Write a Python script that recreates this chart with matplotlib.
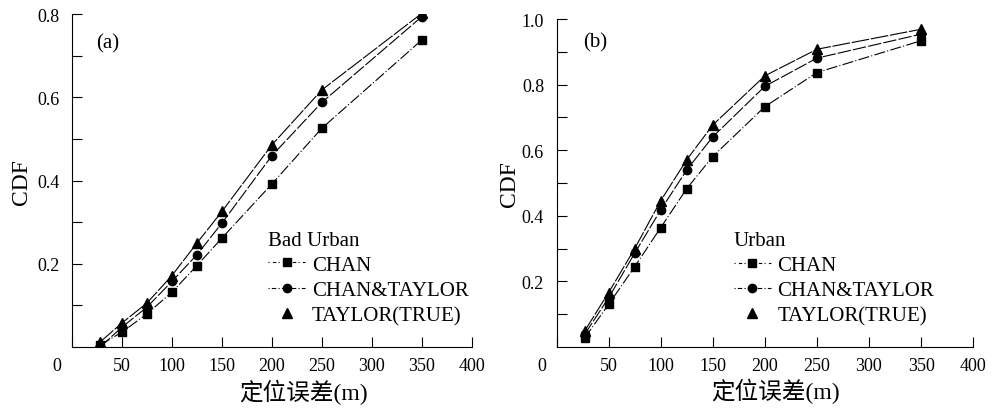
import matplotlib
matplotlib.use("Agg")
import matplotlib.pyplot as plt
from matplotlib.lines import Line2D
from matplotlib.ticker import FixedLocator, FormatStrFormatter
from matplotlib.transforms import ScaledTranslation

plt.rcParams['font.family'] = ['Liberation Serif', 'Noto Sans CJK SC', 'DejaVu Sans']

# ---- data ----
x_err_a = [28, 50, 75, 100, 125, 150, 200, 250, 350]
a_chan = [0.005, 0.036, 0.080, 0.132, 0.196, 0.262, 0.392, 0.526, 0.738]
a_chan_taylor = [0.000, 0.048, 0.096, 0.158, 0.222, 0.298, 0.460, 0.588, 0.794]
a_taylor = [0.012, 0.058, 0.106, 0.172, 0.250, 0.326, 0.486, 0.618, 0.802]

x_err_b = [27, 50, 75, 100, 125, 150, 200, 250, 350]
b_chan = [0.028, 0.130, 0.245, 0.364, 0.483, 0.581, 0.733, 0.837, 0.934]
b_chan_taylor = [0.039, 0.150, 0.286, 0.418, 0.540, 0.641, 0.795, 0.881, 0.954]
b_taylor = [0.049, 0.166, 0.300, 0.446, 0.571, 0.677, 0.827, 0.908, 0.969]

series_names = ['CHAN', 'CHAN&TAYLOR', 'TAYLOR(TRUE)']
legend_titles = ['Bad Urban', 'Urban']
panel_tags = ['(a)', '(b)']
xlabel = '定位误差(m)'
ylabel = 'CDF'
x_ticks = [0, 50, 100, 150, 200, 250, 300, 350, 400]
y_ticks_a = [0.2, 0.4, 0.6, 0.8]
y_ticks_b = [0.2, 0.4, 0.6, 0.8, 1.0]

fig = plt.figure(figsize=(9.92, 4.10), dpi=100)
ax1 = fig.add_axes([0.0726, 0.151, 0.403, 0.812])
ax2 = fig.add_axes([0.561, 0.151, 0.420, 0.800])

styles = [
    dict(marker='s', linestyle=(0, (10, 2, 1, 2)), markersize=6),
    dict(marker='o', linestyle=(0, (12, 2)), markersize=6),
    dict(marker='^', linestyle=(0, (16, 1.5)), markersize=7),
]
legend_ls = [(0, (1, 3, 3, 2)), (0, (1, 2, 4, 2)), 'None']


def draw(ax, xs, ys_list, ylim, yticks, title, tag, leg_anchor, tag_pos, xlab_x, ylab_pad):
    handles = []
    for ys, st, name, lls in zip(ys_list, styles, series_names, legend_ls):
        ax.plot(xs, ys, color='black', linewidth=0.8, **st)
        handles.append(Line2D([], [], color='black', linewidth=0.8, marker=st['marker'],
                              markersize=st['markersize'], linestyle=lls, label=name))
    ax.set_xlim(0, 400)
    ax.set_ylim(*ylim)
    ax.spines['top'].set_visible(False)
    ax.spines['right'].set_visible(False)
    ax.xaxis.set_major_locator(FixedLocator(x_ticks))
    ax.yaxis.set_major_locator(FixedLocator(yticks))
    minors = [round(v * 0.1, 2) for v in range(1, int(ylim[1] * 10) + 1, 2)]
    ax.yaxis.set_minor_locator(FixedLocator(minors))
    ax.yaxis.set_major_formatter(FormatStrFormatter('%.1f'))
    ax.tick_params(axis='both', which='both', direction='in', labelsize=13, width=0.8)
    ax.tick_params(axis='both', which='major', length=7)
    ax.tick_params(axis='y', which='minor', length=7)
    ax.tick_params(axis='x', which='major', pad=7)
    ax.tick_params(axis='y', which='major', pad=9)
    ax.set_xlabel(xlabel, fontsize=17)
    ax.xaxis.set_label_coords(xlab_x, -0.095)
    ax.set_ylabel(ylabel, fontsize=17, labelpad=ylab_pad)
    # shift the "0" x tick label leftwards
    lbl = ax.get_xticklabels()[0]
    lbl.set_transform(lbl.get_transform() + ScaledTranslation(-15 / 100, 0, fig.dpi_scale_trans))
    ax.text(tag_pos[0], tag_pos[1], tag, transform=ax.transAxes, fontsize=15,
            ha='left', va='center')
    ax.legend(handles=handles, title=title, loc='upper left', bbox_to_anchor=leg_anchor,
              frameon=False, fontsize=15, title_fontsize=15, alignment='left',
              handlelength=1.8, handletextpad=0.3, labelspacing=0.27, borderpad=0,
              borderaxespad=0)


draw(ax1, x_err_a, [a_chan, a_chan_taylor, a_taylor], (0, 0.8), y_ticks_a,
     legend_titles[0], panel_tags[0], (0.49, 0.35), (0.06, 0.915), 0.58, 4)
draw(ax2, x_err_b, [b_chan, b_chan_taylor, b_taylor], (0, 1.0), y_ticks_b,
     legend_titles[1], panel_tags[1], (0.425, 0.355), (0.065, 0.93), 0.526, 1.5)

fig.savefig('out.png', dpi=100)
